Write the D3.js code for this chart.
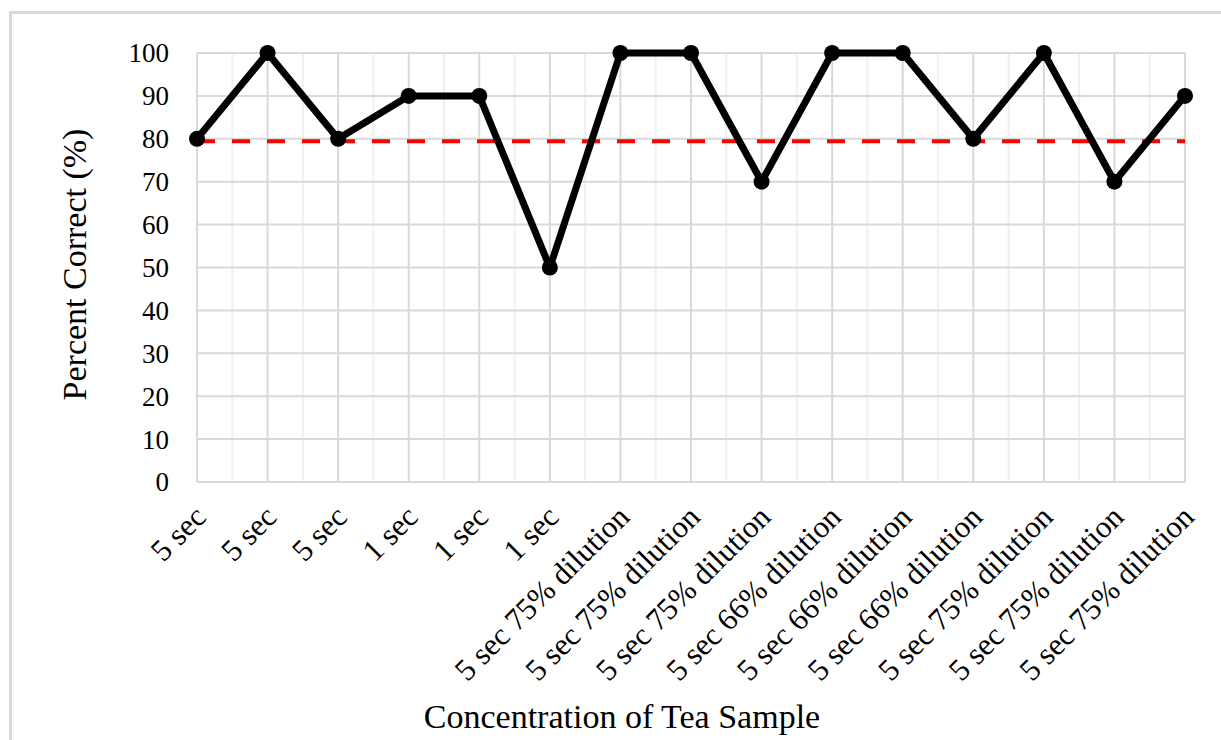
<!DOCTYPE html>
<html>
<head>
<meta charset="utf-8">
<script src="https://cdn.jsdelivr.net/npm/d3@7"></script>
<style>
  body { margin: 0; background: #fff; }
  text { font-family: "Liberation Serif", "Times New Roman", serif; fill: #000; }
</style>
</head>
<body>
<svg width="1221" height="740"></svg>
<script>
const categories = ["5 sec", "5 sec", "5 sec", "1 sec", "1 sec", "1 sec",
    "5 sec 75% dilution", "5 sec 75% dilution", "5 sec 75% dilution",
    "5 sec 66% dilution", "5 sec 66% dilution", "5 sec 66% dilution",
    "5 sec 75% dilution", "5 sec 75% dilution", "5 sec 75% dilution"];
const percent = [80, 100, 80, 90, 90, 50, 100, 100, 70, 100, 100, 80, 100, 70, 90];
const threshold = 79.4;
const yTicks = [0, 10, 20, 30, 40, 50, 60, 70, 80, 90, 100];

const svg = d3.select("svg");
const plotLeft = 197, plotRight = 1185, plotTop = 53, plotBottom = 482;

// outer frame (cropped at right and bottom)
svg.append("path")
    .attr("d", "M10.5,745 L10.5,12.5 L1230,12.5")
    .attr("fill", "none")
    .attr("stroke", "#d9d9d9")
    .attr("stroke-width", 3);

const x = d3.scaleLinear().domain([0, categories.length - 1]).range([plotLeft, plotRight]);
const y = d3.scaleLinear().domain([0, 100]).range([plotBottom, plotTop]);

const idx = d3.range(categories.length);
const minor = d3.range(categories.length - 1).map(i => i + 0.5);

// minor vertical grid
svg.append("g").selectAll("line")
    .data(minor)
    .enter().append("line")
    .attr("x1", d => x(d)).attr("x2", d => x(d))
    .attr("y1", plotTop).attr("y2", plotBottom)
    .attr("stroke", "#f0f0f0")
    .attr("stroke-width", 2);

// horizontal grid
svg.append("g").selectAll("line")
    .data(yTicks)
    .enter().append("line")
    .attr("x1", plotLeft).attr("x2", plotRight)
    .attr("y1", d => y(d)).attr("y2", d => y(d))
    .attr("stroke", "#d9d9d9")
    .attr("stroke-width", 2);

// major vertical grid
svg.append("g").selectAll("line")
    .data(idx)
    .enter().append("line")
    .attr("x1", d => x(d)).attr("x2", d => x(d))
    .attr("y1", plotTop).attr("y2", plotBottom)
    .attr("stroke", "#d9d9d9")
    .attr("stroke-width", 2);

// y tick labels
svg.append("g").selectAll("text")
    .data(yTicks)
    .enter().append("text")
    .attr("x", 169)
    .attr("y", d => y(d))
    .attr("dy", "0.35em")
    .attr("text-anchor", "end")
    .attr("font-size", 27)
    .text(d => d);

// x tick labels
svg.append("g").selectAll("text")
    .data(categories)
    .enter().append("text")
    .attr("transform", (d, i) => `translate(${x(i) + 3},${plotBottom + 29}) rotate(-45)`)
    .attr("text-anchor", "end")
    .attr("dy", "0.35em")
    .attr("font-size", 31)
    .text(d => d);

// threshold line
svg.append("line")
    .attr("x1", plotLeft).attr("x2", plotRight)
    .attr("y1", y(threshold)).attr("y2", y(threshold))
    .attr("stroke", "#ff0000")
    .attr("stroke-width", 4)
    .attr("stroke-dasharray", "18,17");

// data line
const line = d3.line().x((d, i) => x(i)).y(d => y(d));
svg.append("path")
    .datum(percent)
    .attr("d", line)
    .attr("fill", "none")
    .attr("stroke", "#000")
    .attr("stroke-width", 7)
    .attr("stroke-linejoin", "round");

svg.append("g").selectAll("circle")
    .data(percent)
    .enter().append("circle")
    .attr("cx", (d, i) => x(i))
    .attr("cy", d => y(d))
    .attr("r", 8)
    .attr("fill", "#000");

// axis titles
svg.append("text")
    .attr("transform", `translate(86,${(plotTop + plotBottom) / 2 - 3}) rotate(-90)`)
    .attr("text-anchor", "middle")
    .attr("font-size", 34)
    .text("Percent Correct (%)");

svg.append("text")
    .attr("x", 622)
    .attr("y", 728)
    .attr("text-anchor", "middle")
    .attr("font-size", 34)
    .text("Concentration of Tea Sample");
</script>
</body>
</html>
